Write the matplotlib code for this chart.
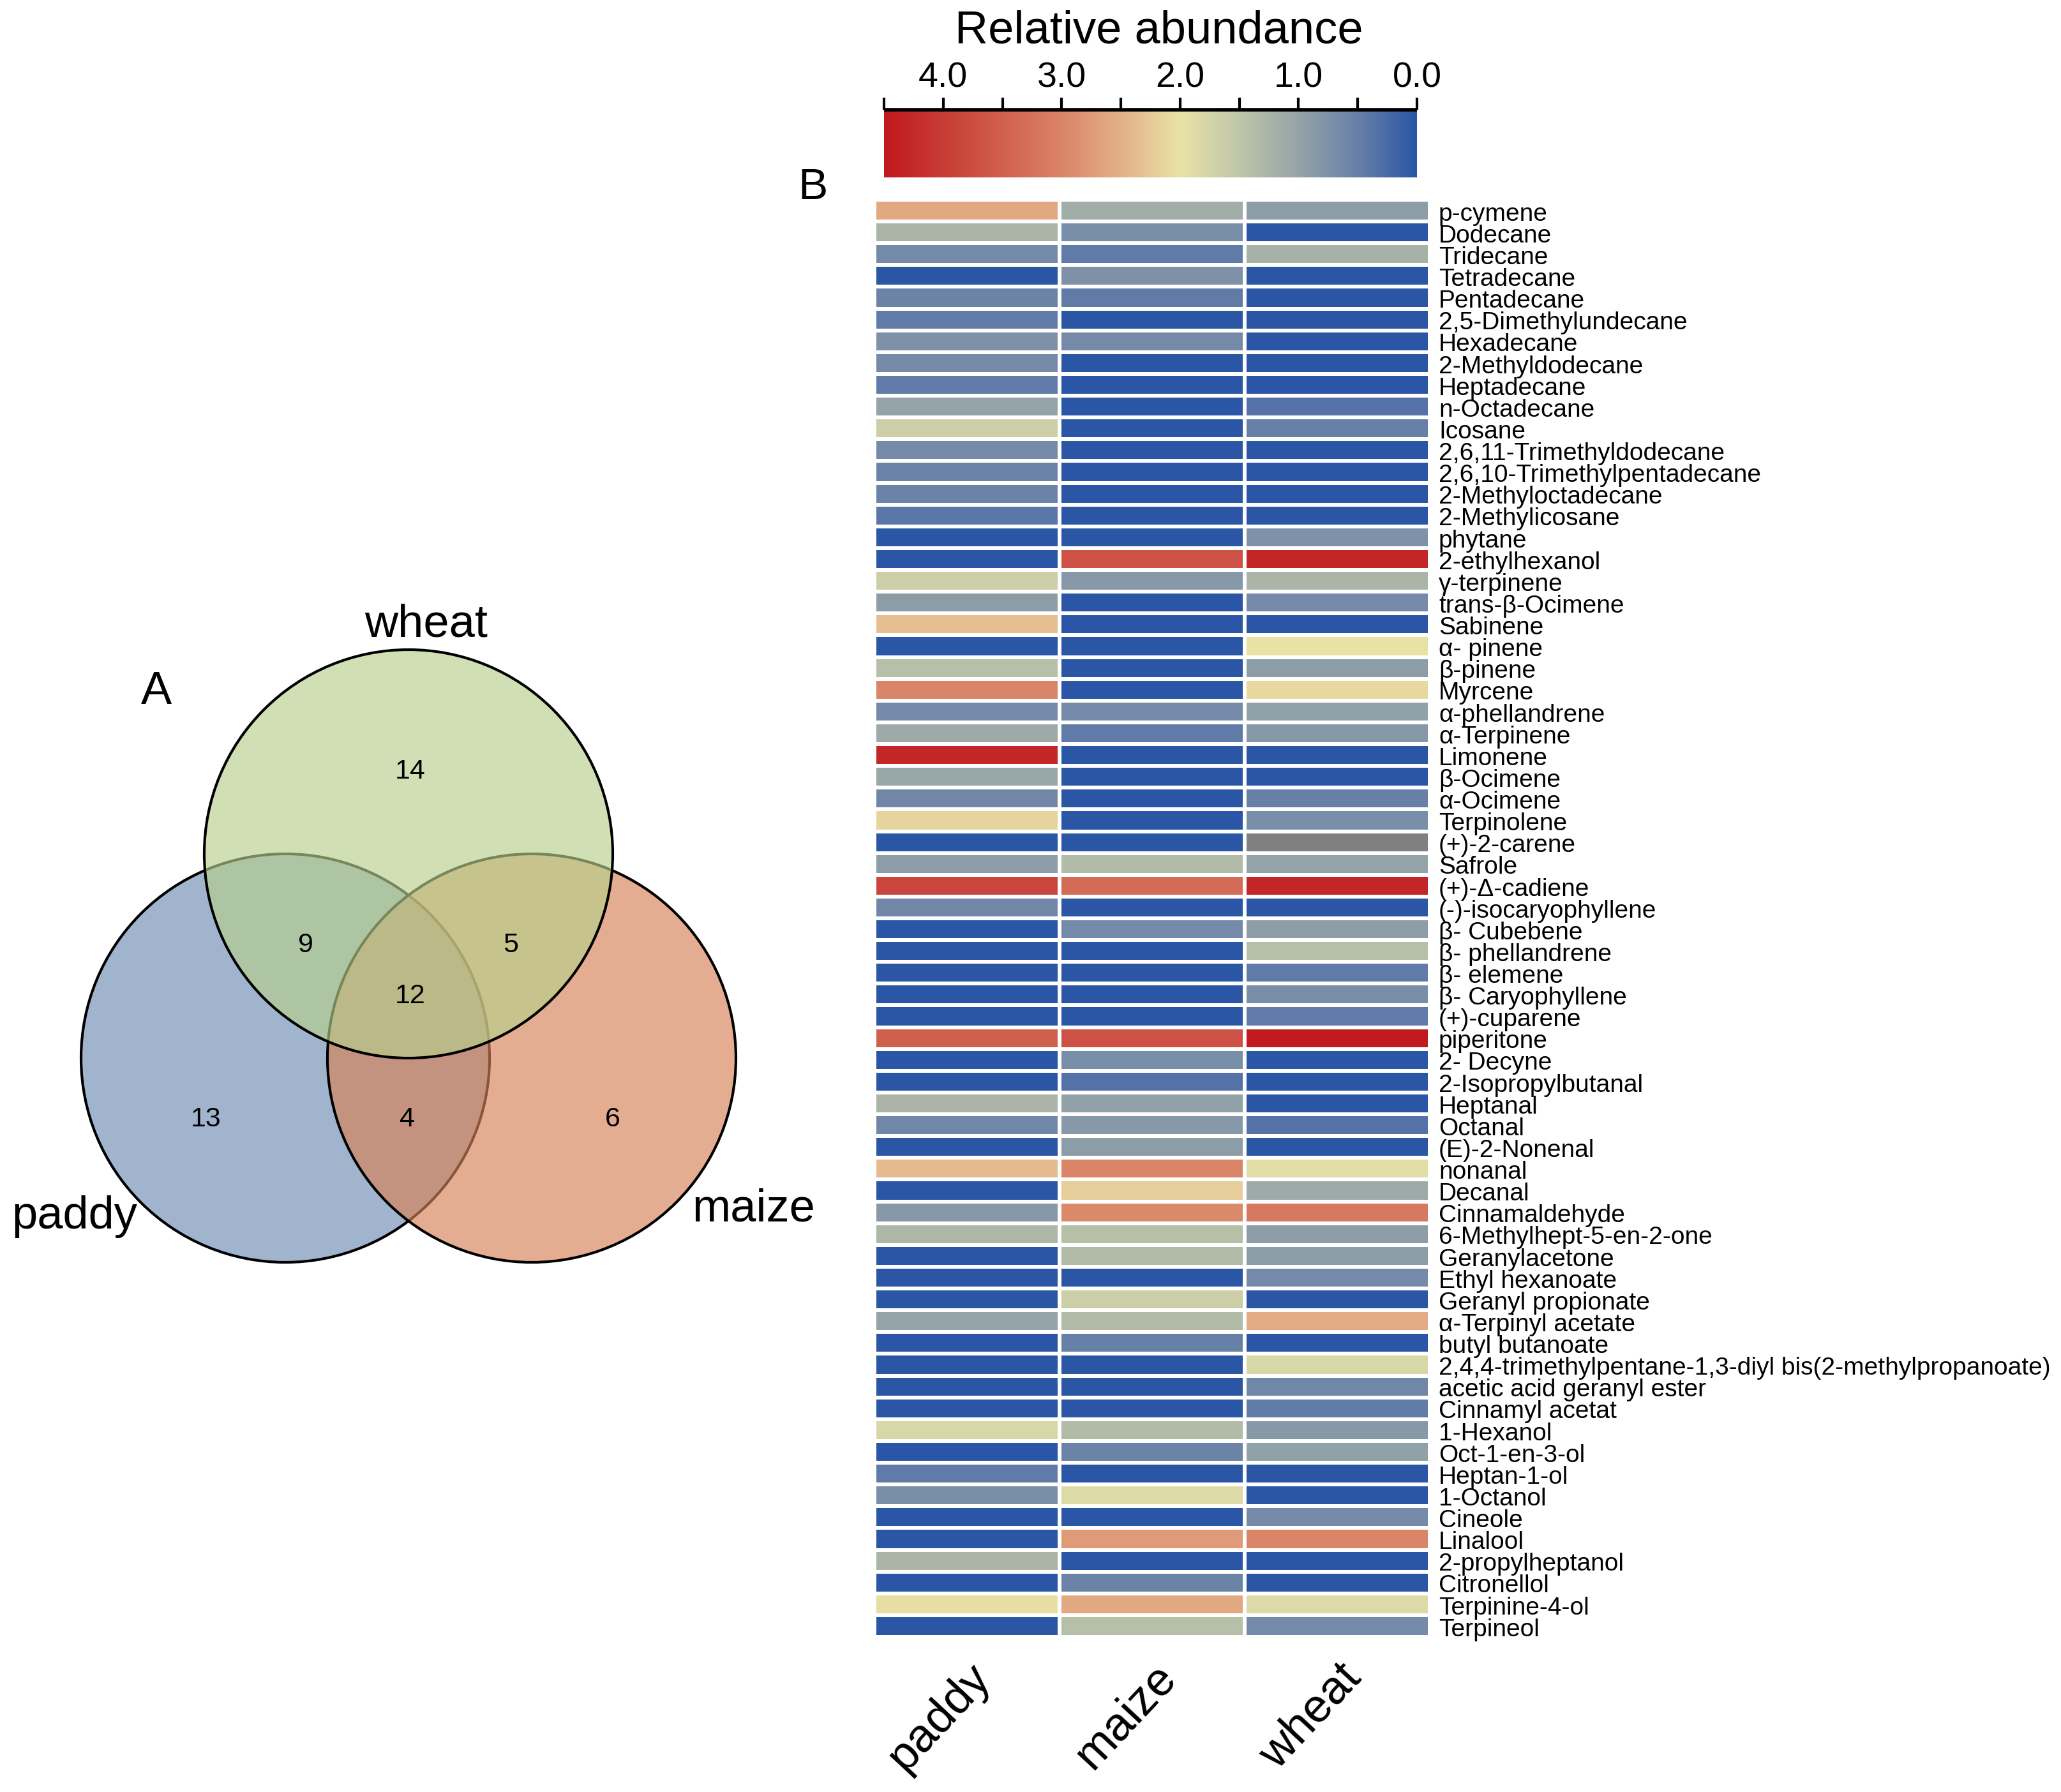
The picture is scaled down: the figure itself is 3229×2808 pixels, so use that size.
import numpy as np
import matplotlib
matplotlib.use("Agg")
import matplotlib.pyplot as plt
from matplotlib.colors import LinearSegmentedColormap, Normalize
from matplotlib.patches import Circle
import matplotlib.cm as cm

plt.rcParams['font.family'] = ['Liberation Sans', 'DejaVu Sans']

# --- donnees heatmap (B) ---
compounds = [
    "p-cymene", "Dodecane", "Tridecane", "Tetradecane", "Pentadecane",
    "2,5-Dimethylundecane", "Hexadecane", "2-Methyldodecane", "Heptadecane",
    "n-Octadecane", "Icosane", "2,6,11-Trimethyldodecane",
    "2,6,10-Trimethylpentadecane", "2-Methyloctadecane", "2-Methylicosane",
    "phytane", "2-ethylhexanol", "γ-terpinene", "trans-β-Ocimene", "Sabinene",
    "α- pinene", "β-pinene", "Myrcene", "α-phellandrene", "α-Terpinene",
    "Limonene", "β-Ocimene", "α-Ocimene", "Terpinolene", "(+)-2-carene",
    "Safrole", "(+)-Δ-cadiene", "(-)-isocaryophyllene", "β- Cubebene",
    "β- phellandrene", "β- elemene", "β- Caryophyllene", "(+)-cuparene",
    "piperitone", "2- Decyne", "2-Isopropylbutanal", "Heptanal", "Octanal",
    "(E)-2-Nonenal", "nonanal", "Decanal", "Cinnamaldehyde",
    "6-Methylhept-5-en-2-one", "Geranylacetone", "Ethyl hexanoate",
    "Geranyl propionate", "α-Terpinyl acetate", "butyl butanoate",
    "2,4,4-trimethylpentane-1,3-diyl bis(2-methylpropanoate)",
    "acetic acid geranyl ester", "Cinnamyl acetat", "1-Hexanol",
    "Oct-1-en-3-ol", "Heptan-1-ol", "1-Octanol", "Cineole", "Linalool",
    "2-propylheptanol", "Citronellol", "Terpinine-4-ol", "Terpineol",
]

paddy = [2.6, 1.25, 0.65, 0.0, 0.55, 0.45, 0.75, 0.65, 0.45, 1.0,
         1.65, 0.65, 0.55, 0.55, 0.4, 0.0, 0.0, 1.65, 0.9, 2.35,
         0.0, 1.4, 3.0, 0.65, 1.1, 4.3, 1.05, 0.6, 2.15, 0.0,
         0.9, 3.85, 0.6, 0.0, 0.0, 0.0, 0.0, 0.0, 3.5, 0.0,
         0.0, 1.25, 0.6, 0.0, 2.4, 0.0, 0.85, 1.3, 0.0, 0.0,
         0.0, 1.0, 0.0, 0.0, 0.0, 0.0, 1.8, 0.0, 0.45, 0.7,
         0.0, 0.0, 1.25, 0.0, 2.05, 0.0]
maize = [1.15, 0.7, 0.45, 0.75, 0.45, 0.0, 0.65, 0.0, 0.0, 0.0,
         0.0, 0.0, 0.0, 0.0, 0.0, 0.0, 3.7, 0.85, 0.0, 0.0,
         0.0, 0.0, 0.0, 0.65, 0.45, 0.0, 0.0, 0.0, 0.0, 0.0,
         1.35, 3.35, 0.0, 0.65, 0.0, 0.0, 0.0, 0.0, 3.7, 0.7,
         0.35, 0.95, 0.85, 0.9, 3.0, 2.2, 2.95, 1.4, 1.35, 0.0,
         1.65, 1.35, 0.5, 0.0, 0.0, 0.0, 1.35, 0.55, 0.0, 1.85,
         0.0, 2.75, 0.0, 0.55, 2.6, 1.4]
wheat = [0.9, 0.0, 1.2, 0.0, 0.0, 0.0, 0.0, 0.0, 0.0, 0.35,
         0.5, 0.0, 0.0, 0.0, 0.0, 0.75, 4.3, 1.25, 0.65, 0.0,
         2.0, 0.9, 2.1, 0.95, 0.85, 0.0, 0.0, 0.5, 0.7, np.nan,
         1.0, 4.3, 0.0, 0.9, 1.4, 0.45, 0.7, 0.45, 4.45, 0.0,
         0.0, 0.0, 0.35, 0.0, 1.9, 1.1, 3.15, 0.9, 0.9, 0.65,
         0.0, 2.55, 0.0, 1.8, 0.6, 0.45, 0.85, 0.95, 0.0, 0.0,
         0.65, 3.0, 0.0, 0.0, 1.85, 0.65]

groups = ["paddy", "maize", "wheat"]

# --- donnees Venn (A) ---
venn_names = ["paddy", "maize", "wheat"]
venn_counts = {"wheat": 14, "paddy&wheat": 9, "wheat&maize": 5, "all": 12,
               "paddy": 13, "paddy&maize": 4, "maize": 6}

W, H = 3230, 2808
fig = plt.figure(figsize=(W / 100, H / 100), dpi=100)

# echelle de couleurs
vmax = 4.5
stops = [(0.0, "#2A56A5"), (0.5, "#6880A8"), (1.0, "#95A4A8"),
         (1.5, "#BFC6A8"), (2.0, "#E8E2A5"), (2.5, "#E4B088"),
         (3.0, "#DA8468"), (3.5, "#D0604F"), (4.0, "#C83C36"),
         (4.5, "#C0181E")]
cmap = LinearSegmentedColormap.from_list("abund", [(v / vmax, c) for v, c in stops])
cmap.set_bad("#808080")
norm = Normalize(0, vmax)

# heatmap
ax = fig.add_axes([1370 / W, 1 - 2565 / H, 870 / W, 2252 / H])
data = np.ma.masked_invalid(np.array([paddy, maize, wheat], dtype=float).T)
n = len(compounds)
ax.pcolormesh(np.arange(4), np.arange(n + 1), data, cmap=cmap, norm=norm,
              edgecolors="white", linewidth=3)
ax.set_xlim(0, 3)
ax.set_ylim(n, 0)
for s in ax.spines.values():
    s.set_visible(False)
ax.set_xticks([])
ax.yaxis.tick_right()
ax.set_yticks(np.arange(n) + 0.55)
ax.set_yticklabels(compounds, fontsize=28)
ax.tick_params(axis="y", length=0, pad=10)
for i, g in enumerate(groups):
    ax.text(i + 0.5, n + 0.85, g, rotation=47, ha="right", va="top",
            rotation_mode="anchor", fontsize=53, clip_on=False)

# barre de couleurs
cax = fig.add_axes([1385 / W, 1 - 278 / H, 835 / W, 106 / H])
cb = fig.colorbar(cm.ScalarMappable(norm=norm, cmap=cmap), cax=cax,
                  orientation="horizontal")
cb.outline.set_visible(False)
cax.set_xlim(vmax, 0)
cax.xaxis.set_ticks_position("top")
cax.set_xticks([4, 3, 2, 1, 0])
cax.set_xticklabels(["4.0", "3.0", "2.0", "1.0", "0.0"])
cax.set_xticks([4.5, 3.5, 2.5, 1.5, 0.5], minor=True)
cax.tick_params(axis="x", which="both", length=14, width=3, direction="out",
                labelsize=40, pad=3)
cax.plot([0, 1], [1, 1], transform=cax.transAxes, color="k", lw=4,
         clip_on=False, solid_capstyle="butt")
fig.text(1816 / W, 1 - 68 / H, "Relative abundance", ha="center",
         va="baseline", fontsize=52)
fig.text(1250 / W, 1 - 312 / H, "B", ha="left", va="baseline", fontsize=50)

# diagramme de Venn (coordonnees pixels)
av = fig.add_axes([0, 0, 1, 1], zorder=-1)
av.set_xlim(0, W)
av.set_ylim(H, 0)
av.axis("off")
centers = {"paddy": (447, 1658), "maize": (833, 1658), "wheat": (640, 1338)}
fills = {"paddy": "#6D8CB4", "maize": "#D68257", "wheat": "#B7CF8C"}
radius = 320
for name in venn_names:
    av.add_patch(Circle(centers[name], radius,
                        facecolor=matplotlib.colors.to_rgba(fills[name], 0.65),
                        edgecolor="black", lw=3))
num_pos = {"wheat": (643, 1209), "paddy&wheat": (479, 1481),
           "wheat&maize": (800, 1481), "all": (643, 1561),
           "paddy": (323, 1754), "paddy&maize": (638, 1754),
           "maize": (960, 1754)}
for k, v in venn_counts.items():
    x, y = num_pos[k]
    av.text(x, y, str(v), ha="center", va="center", fontsize=31)
av.text(668, 998, "wheat", ha="center", va="baseline", fontsize=52)
av.text(117, 1925, "paddy", ha="center", va="baseline", fontsize=52)
av.text(1181, 1914, "maize", ha="center", va="baseline", fontsize=52)
av.text(245, 1103, "A", ha="center", va="baseline", fontsize=52)

fig.savefig("out.png", dpi=100)
